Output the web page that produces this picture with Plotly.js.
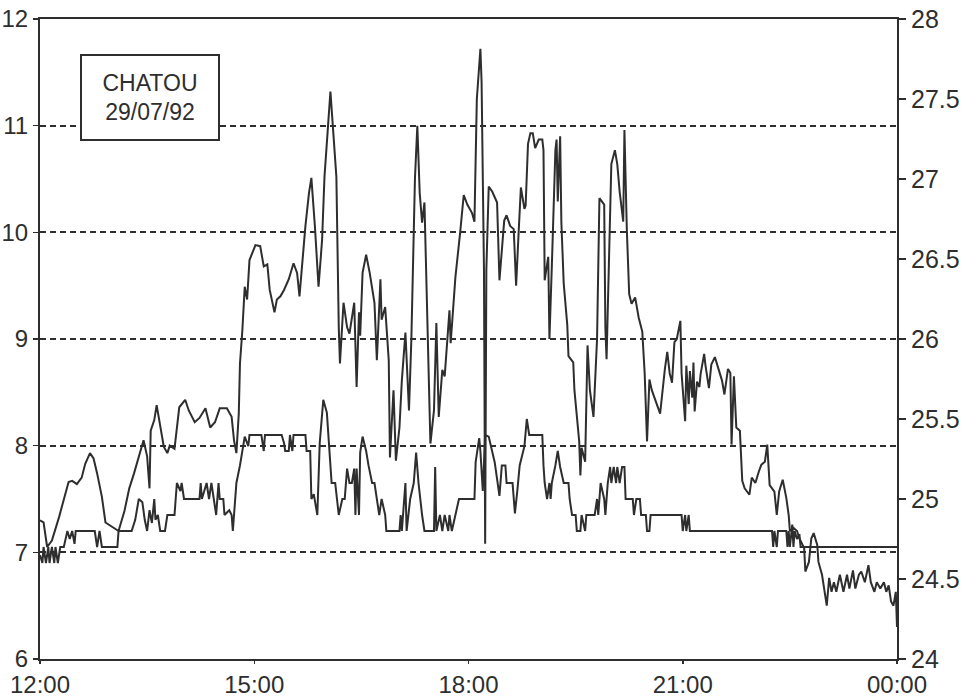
<!DOCTYPE html>
<html>
<head>
<meta charset="utf-8">
<script src="https://cdn.plot.ly/plotly-3.0.1.min.js"></script>
<style>
  html, body { margin: 0; padding: 0; background: #ffffff; }
  #chart { width: 976px; height: 699px; }
</style>
</head>
<body>
<div id="chart"></div>
<script>
// Time axis: minutes after 12:00 on 29/07/92
const xTickHours = [12, 15, 18, 21, 24];
const xTickLabels = ["12:00", "15:00", "18:00", "21:00", "00:00"];
const leftTicks = [6, 7, 8, 9, 10, 11, 12];
const rightTicks = [24, 24.5, 25, 25.5, 26, 26.5, 27, 27.5, 28];

// Fluctuating series (left scale, 6 - 12)
const seriesAMinutes = [
  0,3,6,10,16,21,24,27,31,35,38,42,45,48,52,55,63,66,71,75,79,83,87,90,92,93,96,98,101,104,107,109,113,115,117,122,125,130,134,139,143,147,151,157,161,163,165,167,168,170,
  172,174,176,181,185,188,191,193,197,199,202,205,209,213,216,218,223,226,228,231,234,237,239,242,244,246,249,251,252,255,258,260,264,266,268,269,271,274,277,281,283,286,287,290,293,294,297,299,302,304,
  307,310,312,315,317,319,321,323,325,328,331,333,335,338,340,344,345,349,353,356,359,363,365,367,370,371,373,374,375,377,380,382,384,386,390,392,395,398,400,402,404,407,408,410,412,414,416,419,422,423,
  424,427,428,430,433,434,435,437,438,440,443,444,448,449,453,454,455,458,460,462,465,468,470,474,475,476,478,480,483,485,487,490,491,493,495,497,500,503,506,508,510,512,514,517,521,525,527,529,531,533,
  535,538,539,542,543,545,546,548,549,550,552,554,555,558,559,562,564,567,570,573,575,578,580,581,583,585,588,590,592,596,598,601,604,606,609,611,613,617,619,621,624,627,629,630,633,636,638,642,643,646,
  648,650,653,654,657,659,661,663,665,667,669,672,675,678,680,683,685,688,690,693,696,698,701,703,706,709,711,713,715,717,719,720
];
const seriesAValues = [
  7.30,7.28,7.05,7.11,7.33,7.55,7.66,7.67,7.64,7.70,7.83,7.93,7.88,7.74,7.52,7.28,7.22,7.20,7.39,7.60,7.74,7.89,8.05,7.90,7.60,8.14,8.24,8.38,8.17,7.99,7.93,8.00,7.97,8.14,8.36,8.43,8.33,8.22,8.26,8.35,8.17,8.22,8.35,8.35,8.27,8.05,7.93,8.30,8.77,9.08,
  9.49,9.37,9.74,9.88,9.87,9.68,9.70,9.46,9.25,9.37,9.40,9.46,9.56,9.71,9.62,9.40,10.06,10.37,10.51,10.05,9.49,9.93,10.52,11.00,11.32,11.00,10.52,9.11,8.77,9.34,9.11,9.05,9.34,8.55,9.25,9.03,9.62,9.79,9.62,9.34,8.80,9.56,9.18,9.30,8.80,7.89,8.52,7.86,8.17,8.61,
  9.06,8.33,9.00,10.50,11.00,10.37,10.09,10.28,9.43,8.02,8.33,9.15,8.27,8.71,8.65,9.27,8.96,9.58,10.00,10.35,10.26,10.18,10.10,11.25,11.72,11.41,9.65,7.08,9.65,10.43,10.38,10.32,10.28,9.55,10.11,10.16,10.06,10.03,9.50,9.97,10.42,10.22,10.25,10.83,10.93,10.93,10.79,10.87,10.87,10.77,
  9.55,9.77,9.00,9.68,10.77,10.87,10.29,10.90,10.10,9.52,9.13,8.84,8.78,8.52,8.04,7.72,7.98,7.85,8.94,8.52,8.27,9.00,10.32,10.26,9.10,8.81,9.81,10.64,10.77,10.64,10.38,10.10,10.96,10.03,9.42,9.33,9.39,9.20,9.07,8.68,8.04,8.62,8.52,8.43,8.30,8.72,8.88,8.68,8.59,8.97,
  9.00,9.17,8.68,8.23,8.75,8.39,8.70,8.45,8.78,8.32,8.60,8.55,8.67,8.86,8.76,8.54,8.76,8.83,8.72,8.61,8.48,8.72,8.68,8.01,8.65,8.17,8.14,7.67,7.60,7.54,7.70,7.65,7.76,7.82,7.85,8.01,7.63,7.57,7.35,7.57,7.68,7.51,7.35,7.20,7.23,7.20,7.13,7.04,6.82,6.91,
  7.13,7.18,7.07,6.91,6.79,6.63,6.50,6.76,6.63,6.72,6.63,6.79,6.63,6.79,6.66,6.83,6.66,6.79,6.82,6.72,6.88,6.72,6.63,6.72,6.66,6.72,6.63,6.69,6.54,6.50,6.63,6.30
];

// Stepped series (right scale, 24 - 28)
const seriesBMinutes = [
  0,2,3,5,7,8,10,12,13,15,17,20,23,25,27,29,30,46,48,50,52,65,66,77,80,83,86,88,90,92,94,96,97,99,101,105,107,113,115,118,119,121,134,135,136,140,142,144,146,148,
  150,151,154,155,159,161,162,164,165,168,171,172,175,176,186,188,189,203,205,206,209,210,212,213,223,224,227,228,230,233,235,238,241,244,245,248,251,254,256,258,260,262,264,265,266,268,269,271,274,276,
  279,281,285,287,290,291,302,303,304,307,308,311,314,316,318,321,323,331,332,333,336,338,340,343,344,346,349,352,365,366,369,370,372,374,377,380,382,386,388,391,392,397,399,401,403,407,409,411,422,423,
  424,426,428,429,430,433,435,437,440,444,445,447,450,451,454,455,458,459,466,468,469,471,474,475,477,479,480,482,484,485,487,489,491,492,498,499,501,504,505,509,510,512,513,539,540,542,543,545,546,615,
  616,617,619,620,627,628,629,630,632,633,634,636,638,639,642,720
];
const seriesBValues = [
  24.65,24.60,24.70,24.60,24.70,24.60,24.70,24.60,24.70,24.60,24.70,24.70,24.80,24.75,24.80,24.72,24.80,24.80,24.70,24.80,24.70,24.70,24.80,24.80,24.87,25.00,24.98,24.87,24.80,24.93,24.85,25.00,24.87,24.90,24.80,24.80,24.90,24.90,25.10,25.05,25.10,25.00,25.00,25.10,25.00,25.10,25.00,25.10,25.00,24.90,
  25.10,25.00,25.00,24.90,24.93,24.90,24.80,25.00,25.10,25.21,25.33,25.39,25.33,25.40,25.40,25.30,25.40,25.40,25.35,25.30,25.30,25.40,25.30,25.40,25.40,25.30,25.30,25.00,25.03,24.90,25.35,25.62,25.54,25.23,25.10,25.10,24.90,25.00,25.00,25.19,25.10,25.10,25.19,24.90,25.19,24.90,25.29,25.39,25.30,25.21,
  25.10,25.10,24.90,25.00,24.90,24.80,24.80,24.90,24.80,25.10,24.80,25.00,25.10,25.29,25.10,24.90,24.80,24.80,25.20,24.80,24.90,24.80,24.90,24.80,24.90,24.80,24.90,25.00,25.00,25.23,25.38,25.30,25.05,25.40,25.39,25.30,25.23,25.02,25.21,25.21,25.10,25.10,24.91,25.05,25.21,25.33,25.50,25.40,25.40,25.21,
  25.10,25.00,25.10,25.00,25.10,25.21,25.30,25.20,25.10,25.10,25.00,24.90,24.90,24.80,24.80,24.90,24.80,24.90,24.90,25.00,24.90,25.10,25.00,24.90,25.10,25.20,25.10,25.20,25.10,25.20,25.10,25.20,25.20,25.00,25.00,24.90,25.00,25.00,24.90,24.90,24.80,24.80,24.90,24.90,24.80,24.90,24.80,24.90,24.80,24.80,
  24.70,24.80,24.70,24.80,24.80,24.70,24.80,24.70,24.84,24.70,24.80,24.75,24.78,24.70,24.70,24.70
];

const toHours = m => 12 + m / 60;
const ink = '#2e2e2e';
const fontFamily = 'Liberation Sans, Arial, sans-serif';

const traces = [
  {
    x: seriesAMinutes.map(toHours), y: seriesAValues,
    type: 'scatter', mode: 'lines', yaxis: 'y',
    line: { color: ink, width: 2 }, hoverinfo: 'skip', showlegend: false
  },
  {
    x: seriesBMinutes.map(toHours), y: seriesBValues,
    type: 'scatter', mode: 'lines', yaxis: 'y2',
    line: { color: ink, width: 2 }, hoverinfo: 'skip', showlegend: false
  }
];

const layout = {
  width: 976, height: 699,
  margin: { l: 40, r: 79, t: 19, b: 40, pad: 0 },
  paper_bgcolor: '#ffffff', plot_bgcolor: '#ffffff',
  showlegend: false,
  xaxis: {
    range: [12, 24], tickvals: xTickHours, ticktext: xTickLabels,
    showgrid: false, zeroline: false,
    showline: true, mirror: true, linecolor: ink, linewidth: 2,
    ticks: 'outside', ticklen: 3, tickwidth: 1.5, tickcolor: ink,
    tickfont: { family: fontFamily, size: 24, color: ink }, automargin: false
  },
  yaxis: {
    range: [6, 12], tickvals: leftTicks,
    showgrid: true, gridcolor: ink, gridwidth: 2, griddash: '6px,4px',
    zeroline: false, showline: true, linecolor: ink, linewidth: 2,
    ticks: 'outside', ticklen: 5, tickwidth: 1.5, tickcolor: ink,
    tickfont: { family: fontFamily, size: 24, color: ink }, automargin: false
  },
  yaxis2: {
    range: [24, 28], tickvals: rightTicks, overlaying: 'y', side: 'right',
    showgrid: false, zeroline: false, showline: true, linecolor: ink, linewidth: 2,
    ticks: 'outside', ticklen: 7, tickwidth: 1.5, tickcolor: ink,
    tickfont: { family: fontFamily, size: 25, color: ink }, automargin: false
  },
  annotations: [{
    xref: 'paper', yref: 'paper', x: 0.128, y: 0.877,
    xanchor: 'center', yanchor: 'middle',
    text: 'CHATOU<br>29/07/92', showarrow: false, align: 'center',
    font: { family: fontFamily, size: 23, color: ink },
    bgcolor: '#ffffff', bordercolor: ink, borderwidth: 2,
    width: 136, height: 83, borderpad: 0
  }]
};

Plotly.newPlot('chart', traces, layout, { staticPlot: true, displayModeBar: false });
</script>
</body>
</html>
